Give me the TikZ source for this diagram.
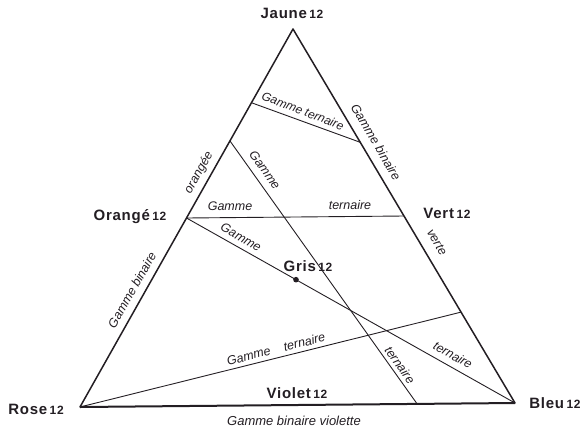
\documentclass[tikz,border=0pt]{standalone}
\usepackage{fontspec}
\setmainfont{Liberation Sans}
\newfontfamily\labfont[LetterSpace=5]{Liberation Sans}
\newfontfamily\itfont{Liberation Sans}
\usetikzlibrary{calc}
\definecolor{ink}{RGB}{35,30,35}
\newcommand\douze{{\fontsize{12}{12}\selectfont 12}}
\begin{document}
\begin{tikzpicture}[x=1pt,y=-1pt,
  edge/.style={draw=ink,line width=1.5pt},
  thinline/.style={draw=ink,line width=0.9pt},
  vlabel/.style={font=\labfont\bfseries\fontsize{15}{15}\selectfont,text=ink,inner sep=0pt},
  itl/.style={font=\itfont\itshape\fontsize{12.5}{12.5}\selectfont,text=ink,inner sep=0pt},
]
\useasboundingbox (0,0) rectangle (584,432);
% vertices
\coordinate (J) at (293,29);
\coordinate (R) at (80,407);
\coordinate (B) at (515,403);
\coordinate (O) at ($(J)!0.5!(R)$);
\coordinate (V) at ($(J)!0.5!(B)$);
\coordinate (Vi) at ($(R)!0.5!(B)$);
\coordinate (G) at ($(J)!0.6667!(Vi)$);
\coordinate (a1) at ($(J)!0.195!(R)$);
\coordinate (a2) at ($(J)!0.303!(B)$);
\coordinate (b1) at ($(J)!0.296!(R)$);
\coordinate (b2) at ($(R)!0.775!(B)$);
\coordinate (c1) at ($(J)!0.757!(B)$);
% triangle
\draw[edge,line cap=round] (J) -- (R);
\draw[edge,line cap=round] (J) -- (B);
\draw[edge,line width=2pt] (R) -- (B);
% inner lines
\draw[thinline] (a1) -- (a2);
\draw[thinline] (b1) -- (b2);
\draw[thinline] (O) -- (V);
\draw[thinline] (O) -- (B);
\draw[thinline] (R) -- (c1);
\fill[ink] (G) circle (2.8pt);
% vertex labels
\node[vlabel] (lJ) at (292,13) {Jaune\,\douze};
\node[vlabel] (lO) at (130,217) {Orangé\,\douze};
\node[vlabel] (lV) at (447,213) {Vert\,\douze};
\node[vlabel] (lR) at (36,409) {Rose\,\douze};
\node[vlabel] (lB) at (555,403) {Bleu\,\douze};
\node[vlabel] (lVi) at (297,393) {Violet\,\douze};
\node[vlabel] (lG) at (308,266) {Gris\,\douze};
% gamme labels
\node[itl,rotate=-20.9,font=\itfont\itshape\fontsize{12}{12}\selectfont] (t1) at (303,111) {Gamme ternaire};
\node[itl,rotate=-59.5] (t2) at (376,142) {Gamme binaire};
\node[itl,rotate=-59.5] (t3) at (437,242) {verte};
\node[itl,rotate=60.7] (t4) at (199,173) {orangée};
\node[itl,rotate=60.7] (t5) at (132,290) {Gamme binaire};
\node[itl,rotate=-55] (t6) at (265,170) {Gamme};
\node[itl,rotate=-55] (t7) at (400,365) {ternaire};
\node[itl] (t8) at (230,206) {Gamme};
\node[itl] (t9) at (350,205) {ternaire};
\node[itl,rotate=-29.4] (t10) at (241,237) {Gamme};
\node[itl,rotate=-29.4] (t11) at (453,355) {ternaire};
\node[itl,rotate=14] (t12) at (276,349) {Gamme\hspace{14pt}ternaire};
\node[itl,font=\itfont\itshape\fontsize{13}{13}\selectfont] (t13) at (294,421) {Gamme binaire violette};
\end{tikzpicture}
\end{document}
